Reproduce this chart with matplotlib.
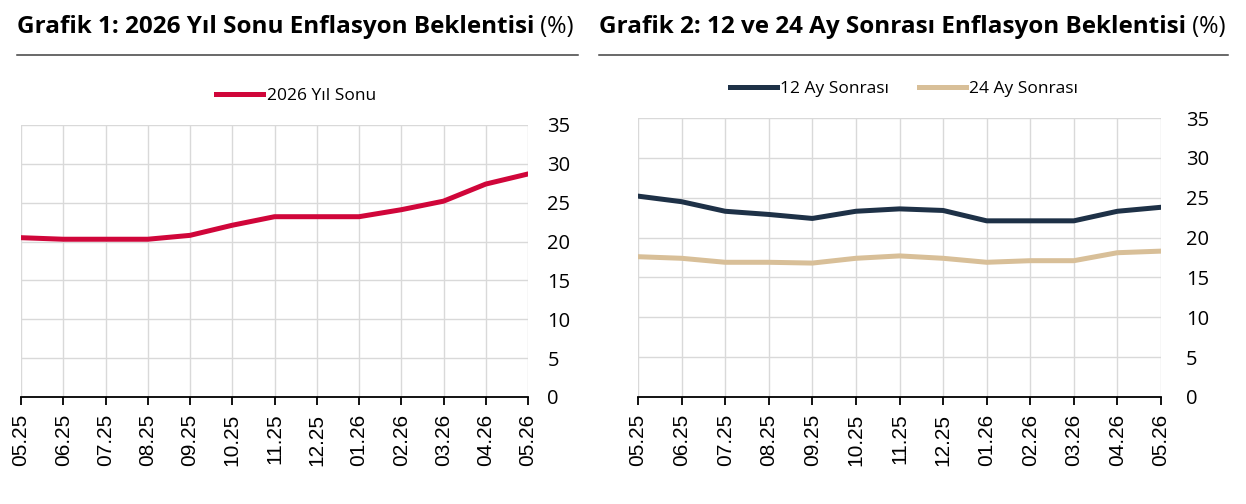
import matplotlib
matplotlib.use("Agg")
import matplotlib.pyplot as plt
from matplotlib.lines import Line2D

plt.rcParams['font.family'] = ['Open Sans', 'DejaVu Sans']

months = ['05.25', '06.25', '07.25', '08.25', '09.25', '10.25', '11.25',
          '12.25', '01.26', '02.26', '03.26', '04.26', '05.26']
yil_sonu_2026 = [20.5, 20.3, 20.3, 20.3, 20.8, 22.1, 23.2, 23.2, 23.2, 24.1, 25.2, 27.4, 28.7]
ay12_sonrasi = [25.2, 24.5, 23.3, 22.9, 22.4, 23.3, 23.6, 23.4, 22.1, 22.1, 22.1, 23.3, 23.8]
ay24_sonrasi = [17.6, 17.4, 16.9, 16.9, 16.8, 17.4, 17.7, 17.4, 16.9, 17.1, 17.1, 18.1, 18.3]
yticks = [0, 5, 10, 15, 20, 25, 30, 35]

W, H = 1246, 504
fig = plt.figure(figsize=(W / 100, H / 100), dpi=100)


def fx(px):
    return px / W


def fy(py):
    return 1 - py / H


def style_axis(ax, ypad):
    ax.set_xlim(0, len(months) - 1)
    ax.set_ylim(0, 35)
    ax.set_xticks(range(len(months)))
    ax.set_xticklabels(months, rotation=90, fontsize=15, family='Liberation Sans')
    ax.set_yticks(yticks)
    ax.yaxis.tick_right()
    ax.tick_params(axis='y', length=0, pad=ypad, labelsize=14.5)
    ax.tick_params(axis='x', length=6, width=1.3, pad=6, color='black')
    ax.grid(True, color='#d9d9d9', lw=1)
    ax.set_axisbelow(True)
    for s in ['top', 'left', 'right']:
        ax.spines[s].set_visible(False)
    ax.spines['bottom'].set_color('black')
    ax.spines['bottom'].set_linewidth(1.3)
    ax.spines['bottom'].set_zorder(5)


def title(x0, x1, text):
    t = fig.text(fx(x0), fy(33), text, fontsize=17.5, fontweight='bold', va='baseline')
    r = fig.canvas.get_renderer()
    bb = t.get_window_extent(renderer=r)
    fig.text(bb.x1 / W, fy(33), ' (%)', fontsize=17, va='baseline')
    fig.add_artist(Line2D([fx(x0), fx(x1)], [fy(55), fy(55)], color='#404040', lw=1.1))


# Grafik 1
ax1 = fig.add_axes([fx(21), fy(397), fx(528) - fx(21), fy(125) - fy(397)])
ax1.plot(range(len(months)), yil_sonu_2026, color='#d0063a', lw=3.6, label='2026 Yıl Sonu', zorder=3)
style_axis(ax1, 14)
ax1.legend(loc='center', bbox_to_anchor=(fx(296), fy(96)), bbox_transform=fig.transFigure,
           frameon=False, fontsize=12.5, handlelength=2.7, handletextpad=0.2)

# Grafik 2
ax2 = fig.add_axes([fx(638), fy(397), fx(1161) - fx(638), fy(118) - fy(397)])
ax2.plot(range(len(months)), ay12_sonrasi, color='#1e3147', lw=3.6, label='12 Ay Sonrası', zorder=3)
ax2.plot(range(len(months)), ay24_sonrasi, color='#d8bf98', lw=3.6, label='24 Ay Sonrası', zorder=3)
style_axis(ax2, 18)
ax2.legend(loc='center', bbox_to_anchor=(fx(904), fy(89)), bbox_transform=fig.transFigure,
           frameon=False, fontsize=12.5, ncol=2, handlelength=2.7, handletextpad=0.2,
           columnspacing=1.7)

fig.canvas.draw()
title(17, 578, 'Grafik 1: 2026 Yıl Sonu Enflasyon Beklentisi')
title(599, 1228, 'Grafik 2: 12 ve 24 Ay Sonrası Enflasyon Beklentisi')

fig.savefig('out.png', dpi=100)
